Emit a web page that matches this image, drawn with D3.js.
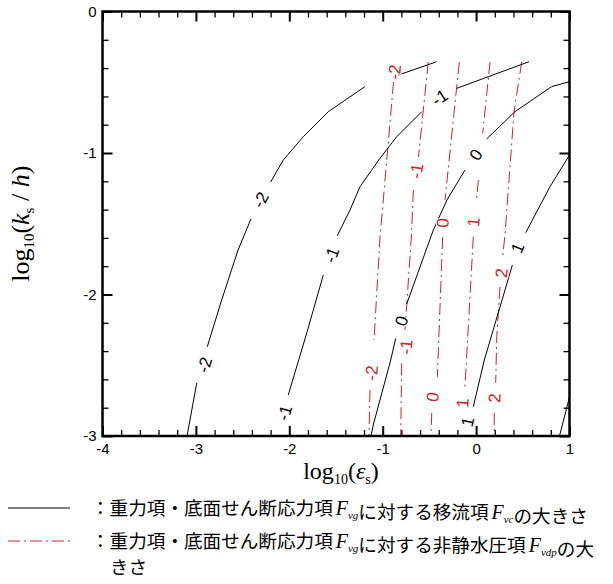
<!DOCTYPE html>
<html>
<head>
<meta charset="utf-8">
<script src="https://cdn.jsdelivr.net/npm/d3@7"></script>
<style>
body { margin: 0; background: #fff; }
svg { display: block; }
</style>
</head>
<body>
<svg id="chart" width="613" height="584"></svg>
<script>
// axis ticks
const xTicks = [-4, -3, -2, -1, 0, 1];
const yTicks = [0, -1, -2, -3];

// black contours: log10 of advection term Fvc / Fvg  (segments broken where labels sit)
const vcLevels = ["-2", "-1", "0", "1", "2"];
const vcM2 = [
    [[-3.095, -3.0], [-2.991, -2.625]],
    [[-2.878, -2.369], [-2.724, -2.039], [-2.549, -1.686], [-2.410, -1.466]],
    [[-2.199, -1.205], [-2.064, -1.049], [-1.850, -0.885], [-1.582, -0.708], [-1.190, -0.531]],
    [[-0.833, -0.449], [-0.422, -0.355]]
];
const vcM1 = [
    [[-2.011, -2.710], [-1.814, -2.274], [-1.636, -1.862]],
    [[-1.486, -1.584], [-1.350, -1.403], [-1.243, -1.238], [-1.029, -1.037], [-0.850, -0.885], [-0.582, -0.708]],
    [[-0.208, -0.543], [0.566, -0.355]]
];
const vc0 = [
    [[-1.125, -3.0], [-1.101, -2.922], [-0.914, -2.463], [-0.861, -2.310]],
    [[-0.743, -2.067], [-0.458, -1.544], [-0.312, -1.332], [-0.119, -1.120]],
    [[0.113, -0.901], [0.416, -0.708], [0.809, -0.531], [1.0, -0.496]]
];
const vc1 = [
    [[-0.030, -2.793], [0.088, -2.463], [0.388, -1.792]],
    [[0.531, -1.563], [0.791, -1.238], [1.0, -1.014]]
];
const vc2 = [
    [[0.893, -3.0], [1.0, -2.724]]
];
const vcLines = [vcM2, vcM1, vc0, vc1, vc2];
const vcLabelPts = [
    [[-2.903, -2.498], [-2.303, -1.332]],
    [[-2.046, -2.837], [-1.543, -1.721], [-0.387, -0.611]],
    [[-0.793, -2.187], [0.0, -1.014]],
    [[-0.087, -2.901], [0.449, -1.671]],
    []
];

// red dash-dot contours: log10 of non-hydrostatic pressure term Fvdp / Fvg
const vpLevels = ["-2", "-1", "0", "1", "2"];
const vpM2 = [
    [[-0.884, -0.498], [-1.029, -1.601], [-1.093, -2.322]],
    [[-1.136, -2.675], [-1.147, -3.0]]
];
const vpM1 = [
    [[-0.512, -0.357], [-0.617, -1.028]],
    [[-0.672, -1.261], [-0.692, -1.580], [-0.761, -2.251]],
    [[-0.797, -2.486], [-0.807, -3.0]]
];
const vp0 = [
    [[-0.180, -0.357], [-0.333, -1.332]],
    [[-0.358, -1.594], [-0.415, -2.583]],
    [[-0.475, -2.837], [-0.483, -3.0]]
];
const vp1 = [
    [[0.149, -0.357], [0.071, -0.861]],
    [[0.024, -1.191], [0.004, -1.332]],
    [[-0.030, -1.592], [-0.119, -2.652]]
];
const vp2 = [
    [[0.488, -0.357], [0.406, -0.710], [0.309, -1.580], [0.283, -1.742]],
    [[0.256, -1.947], [0.221, -2.300], [0.210, -2.625]],
    [[0.195, -2.837], [0.192, -3.0]]
];
const vpLines = [vpM2, vpM1, vp0, vp1, vp2];
const vpLabelPts = [
    [[-0.868, -0.428], [-1.115, -2.555]],
    [[-0.633, -1.127], [-0.745, -2.371]],
    [[-0.354, -1.495], [-0.461, -2.724]],
    [[-0.022, -1.488], [-0.140, -2.767]],
    [[0.277, -1.848], [0.202, -2.731]]
];

const red = "#d2232a";
const svg = d3.select("#chart");

const x = d3.scaleLinear().domain([-4, 1]).range([102.5, 569.5]);
const y = d3.scaleLinear().domain([-3, 0]).range([436, 11.5]);

const minor = (lo, hi) => d3.range(lo * 5, hi * 5 + 1).map(v => v / 5)
    .filter(v => Math.abs(v - Math.round(v)) > 1e-6);
const xMinor = minor(-4, 1);
const yMinor = minor(-3, 0);

svg.append("clipPath").attr("id", "plot")
    .append("rect")
    .attr("x", x(-4)).attr("y", y(0))
    .attr("width", x(1) - x(-4)).attr("height", y(-3) - y(0));

const line = d3.line().x(d => x(d[0])).y(d => y(d[1]));
const plot = svg.append("g").attr("clip-path", "url(#plot)");

// contour lines
vpLines.forEach(segs => {
    plot.selectAll(null).data(segs).join("path")
        .attr("d", line)
        .attr("fill", "none")
        .attr("stroke", red)
        .attr("stroke-width", 1)
        .attr("stroke-dasharray", "12,4,2,4");
});
vcLines.forEach(segs => {
    plot.selectAll(null).data(segs).join("path")
        .attr("d", line)
        .attr("fill", "none")
        .attr("stroke", "#000")
        .attr("stroke-width", 1);
});

// contour labels, turned along the line
function drawLabels(levels, lines, pts, color) {
    levels.forEach((lev, i) => {
        const verts = lines[i].flat().map(p => [x(p[0]), y(p[1])]);
        pts[i].forEach(p => {
            const px = x(p[0]), py = y(p[1]);
            const near = verts.map(v => [v, Math.hypot(v[0] - px, v[1] - py)])
                .sort((a, b) => a[1] - b[1]);
            let dx = near[1][0][0] - near[0][0][0];
            let dy = near[1][0][1] - near[0][0][1];
            if (dy > 0) { dx = -dx; dy = -dy; }
            const ang = Math.atan2(dy, dx) * 180 / Math.PI;
            svg.append("text")
                .attr("transform", `translate(${px},${py}) rotate(${ang})`)
                .attr("text-anchor", "middle")
                .attr("dominant-baseline", "central")
                .attr("font-family", "Liberation Sans, Arial, sans-serif")
                .attr("font-size", 17)
                .attr("fill", color)
                .attr("stroke", "#fff")
                .attr("stroke-width", 2)
                .attr("paint-order", "stroke")
                .text(lev);
        });
    });
}
drawLabels(vpLevels, vpLines, vpLabelPts, red);
drawLabels(vcLevels, vcLines, vcLabelPts, "#000");

// axes, ticks pointing inward on all four sides
const fmt = d => String(d);
function addAxis(axis, tr, values, size, labels, pad) {
    const g = svg.append("g").attr("transform", tr)
        .call(axis.tickValues(values).tickSize(-size).tickSizeOuter(0)
            .tickPadding(pad).tickFormat(labels ? fmt : ""));
    g.select(".domain").remove();
    g.selectAll(".tick line").attr("stroke-width", size > 7 ? 2 : 1.3);
    g.selectAll("text")
        .attr("font-family", "Liberation Sans, Arial, sans-serif")
        .attr("font-size", 15)
        .attr("fill", "#000");
    return g;
}
addAxis(d3.axisBottom(x), `translate(0,${y(-3)})`, xTicks, 10, true, 7);
addAxis(d3.axisBottom(x), `translate(0,${y(-3)})`, xMinor, 6, false, 7);
addAxis(d3.axisTop(x), `translate(0,${y(0)})`, xTicks, 10, false, 7);
addAxis(d3.axisTop(x), `translate(0,${y(0)})`, xMinor, 6, false, 7);
addAxis(d3.axisLeft(y), `translate(${x(-4)},0)`, yTicks, 10, true, 6);
addAxis(d3.axisLeft(y), `translate(${x(-4)},0)`, yMinor, 6, false, 6);
addAxis(d3.axisRight(y), `translate(${x(1)},0)`, yTicks, 10, false, 6);
addAxis(d3.axisRight(y), `translate(${x(1)},0)`, yMinor, 6, false, 6);

svg.append("rect")
    .attr("x", x(-4)).attr("y", y(0))
    .attr("width", x(1) - x(-4)).attr("height", y(-3) - y(0))
    .attr("fill", "none").attr("stroke", "#000").attr("stroke-width", 2.5);

// axis titles
const serif = "Liberation Serif, Times New Roman, serif";
const xt = svg.append("text")
    .attr("x", (x(-4) + x(1)) / 2 + 5).attr("y", 479)
    .attr("text-anchor", "middle")
    .attr("font-family", serif).attr("font-size", 24);
xt.append("tspan").text("log");
xt.append("tspan").attr("font-size", 14).attr("dy", 5).text("10");
xt.append("tspan").attr("dy", -5).text("(");
xt.append("tspan").attr("font-style", "italic").text("ε");
xt.append("tspan").attr("font-size", 14).attr("dy", 5).text("s");
xt.append("tspan").attr("dy", -5).text(")");

const yt = svg.append("text")
    .attr("transform", `translate(29,${(y(0) + y(-3)) / 2}) rotate(-90)`)
    .attr("text-anchor", "middle")
    .attr("font-family", serif).attr("font-size", 26);
yt.append("tspan").text("log");
yt.append("tspan").attr("font-size", 15).attr("dy", 5).text("10");
yt.append("tspan").attr("dy", -5).text("(");
yt.append("tspan").attr("font-style", "italic").text("k");
yt.append("tspan").attr("font-size", 15).attr("dy", 5).text("s");
yt.append("tspan").attr("dy", -5).text(" / ");
yt.append("tspan").attr("font-style", "italic").text("h");
yt.append("tspan").text(")");

// legend
const jp = "Noto Sans CJK JP, sans-serif";
svg.append("line").attr("x1", 8).attr("x2", 70).attr("y1", 508).attr("y2", 508)
    .attr("stroke", "#000").attr("stroke-width", 1);
svg.append("line").attr("x1", 8).attr("x2", 70).attr("y1", 541).attr("y2", 541)
    .attr("stroke", red).attr("stroke-width", 1).attr("stroke-dasharray", "12,4,2,4");

function legendRow(yy, parts) {
    const t = svg.append("text").attr("x", 91).attr("y", yy)
        .attr("font-family", jp).attr("font-size", 18.6).attr("fill", "#000");
    parts.forEach(p => {
        if (typeof p === "string") {
            t.append("tspan").text(p);
        } else {
            t.append("tspan").attr("font-family", serif).attr("font-style", "italic")
                .attr("font-size", 20).attr("dx", 3).text("F");
            t.append("tspan").attr("font-family", serif).attr("font-style", "italic")
                .attr("font-size", 11).attr("dy", 4).text(p.sub);
            t.append("tspan").attr("dy", -4).attr("dx", 1).text("");
        }
    });
}
legendRow(515, ["：重力項・底面せん断応力項", {sub: "vg"}, "に対する移流項", {sub: "vc"}, "の大きさ"]);
legendRow(548, ["：重力項・底面せん断応力項", {sub: "vg"}, "に対する非静水圧項", {sub: "vdp"}, "の大"]);
svg.append("text").attr("x", 110).attr("y", 574)
    .attr("font-family", jp).attr("font-size", 18.6).text("きさ");
</script>
</body>
</html>
